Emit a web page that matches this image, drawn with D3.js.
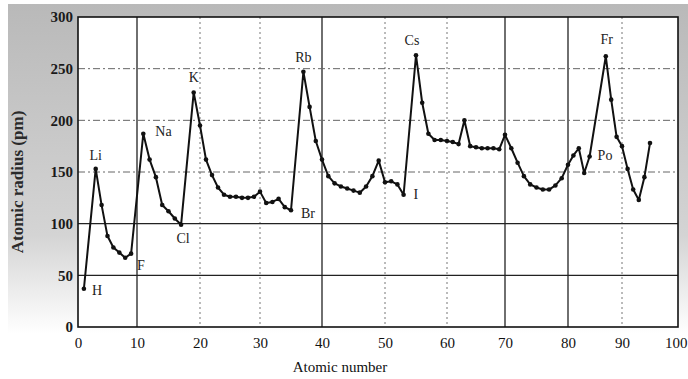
<!DOCTYPE html>
<html>
<head>
<meta charset="utf-8">
<script src="https://cdn.jsdelivr.net/npm/d3@7"></script>
<style>
  html, body { margin: 0; padding: 0; background: #fff; }
  svg { display: block; }
</style>
</head>
<body>
<div id="chart"></div>
<script>
// Atomic radius vs atomic number (noble gases left out, as in the source)

const atomicNumbers = [
  1, 3, 4, 5, 6, 7, 8, 9,
  11, 12, 13, 14, 15, 16, 17,
  19, 20, 21, 22, 23, 24, 25, 26, 27, 28, 29, 30, 31, 32, 33, 34, 35,
  37, 38, 39, 40, 41, 42, 43, 44, 45, 46, 47, 48, 49, 50, 51, 52, 53,
  55, 56, 57, 58, 59, 60, 61, 62, 63, 64, 65, 66, 67, 68, 69, 70, 71,
  72, 73, 74, 75, 76, 77, 78, 79, 80, 81, 82, 83, 84,
  87, 88, 89, 90, 91, 92, 93, 94, 95
]

const radii = [
  37, 153, 118, 88, 77, 72, 67, 71,
  187, 162, 145, 118, 112, 105, 99,
  227, 195, 162, 147, 135, 128, 126, 126, 125, 125, 126, 131, 120, 121, 124, 116, 113,
  247, 213, 180, 162, 146, 139, 136, 134, 132, 130, 136, 146, 161, 140, 141, 138, 128,
  263, 217, 187, 181, 181, 180, 179, 177, 200, 175, 174, 173, 173, 173, 172, 186, 173,
  159, 146, 138, 135, 133, 133, 137, 144, 157, 166, 173, 149, 165,
  262, 220, 184, 175, 153, 133, 123, 145, 178
]

// element labels shown on the curve
const labelSymbols = ['H', 'Li', 'F', 'Na', 'Cl', 'K', 'Br', 'Rb', 'I', 'Cs', 'Fr', 'Po']
const labelNumbers = [1, 3, 9, 11, 17, 19, 35, 37, 53, 55, 87, 84]

const xTicks = [0, 10, 20, 30, 40, 50, 60, 70, 80, 90, 100]
const yTicks = [0, 50, 100, 150, 200, 250, 300]

// label placement relative to its point
const labelOffset = {
  H: [8, 6, 'start'], Li: [0, -9, 'middle'], F: [6, 16, 'start'],
  Na: [12, 2, 'start'], Cl: [2, 18, 'middle'], K: [0, -10, 'middle'],
  Br: [10, 8, 'start'], Rb: [0, -10, 'middle'], I: [10, 4, 'start'],
  Cs: [-4, -10, 'middle'], Fr: [1, -12, 'middle'], Po: [8, 3, 'start']
}

const width = 688
const height = 379

// the scan is slightly warped, so x is calibrated on each grid line
const x = d3.scaleLinear()
  .domain(xTicks)
  .range([78, 137, 200, 260, 322, 385, 447, 505, 568, 622, 678])

const y = d3.scaleLinear()
  .domain([0, 300])
  .range([327, 17])

const svg = d3.select('#chart')
  .append('svg')
  .attr('width', width)
  .attr('height', height)
  .style('font-family', '"Liberation Serif", "DejaVu Serif", serif')

// grey panel behind the plot
const defs = svg.append('defs')
const grad = defs.append('linearGradient')
  .attr('id', 'panel')
  .attr('x1', 0).attr('y1', 0).attr('x2', 0).attr('y2', 1)
grad.append('stop').attr('offset', '0%').attr('stop-color', '#b9b9b9')
grad.append('stop').attr('offset', '70%').attr('stop-color', '#d4d4d4')
grad.append('stop').attr('offset', '100%').attr('stop-color', '#ffffff')

svg.append('rect')
  .attr('x', 8).attr('y', 4)
  .attr('width', 680).attr('height', 330)
  .attr('fill', 'url(#panel)')

svg.append('rect')
  .attr('x', x(0)).attr('y', y(300))
  .attr('width', x(100) - x(0)).attr('height', y(0) - y(300))
  .attr('fill', '#fff')

// grid
const solidX = [10, 40, 70, 80]
const solidY = [50, 100]

svg.append('g')
  .selectAll('line')
  .data(xTicks.slice(1, -1))
  .join('line')
  .attr('x1', d => x(d)).attr('x2', d => x(d))
  .attr('y1', y(300)).attr('y2', y(0))
  .attr('stroke', d => solidX.includes(d) ? '#222' : '#777')
  .attr('stroke-width', d => solidX.includes(d) ? 1.3 : 1)
  .attr('stroke-dasharray', d => solidX.includes(d) ? null : '2,3')

svg.append('g')
  .selectAll('line')
  .data(yTicks.slice(1, -1))
  .join('line')
  .attr('x1', x(0)).attr('x2', x(100))
  .attr('y1', d => y(d)).attr('y2', d => y(d))
  .attr('stroke', d => solidY.includes(d) ? '#222' : '#666')
  .attr('stroke-width', d => solidY.includes(d) ? 1.3 : 1)
  .attr('stroke-dasharray', d => solidY.includes(d) ? null : '7,3,2,3')

// frame
svg.append('rect')
  .attr('x', x(0)).attr('y', y(300))
  .attr('width', x(100) - x(0)).attr('height', y(0) - y(300))
  .attr('fill', 'none')
  .attr('stroke', '#111')
  .attr('stroke-width', 1.6)

// axes
const xAxis = svg.append('g')
  .attr('transform', `translate(0,${y(0)})`)
  .call(d3.axisBottom(x).tickValues(xTicks).tickSize(0).tickPadding(10))
xAxis.select('.domain').remove()
xAxis.selectAll('text')
  .attr('font-size', 15)
  .attr('font-family', '"Liberation Serif", serif')
  .attr('fill', '#111')
// the last label sits against the right edge in the source
xAxis.selectAll('.tick')
  .filter(d => d === 100)
  .select('text')
  .attr('text-anchor', 'end')
  .attr('dx', 9)

const yAxis = svg.append('g')
  .attr('transform', `translate(${x(0)},0)`)
  .call(d3.axisLeft(y).tickValues(yTicks).tickSize(0).tickPadding(5))
yAxis.select('.domain').remove()
yAxis.selectAll('text')
  .attr('font-size', 15)
  .attr('font-weight', 'bold')
  .attr('font-family', '"Liberation Serif", serif')
  .attr('fill', '#1a1a1a')

svg.append('text')
  .attr('x', 340).attr('y', 372)
  .attr('text-anchor', 'middle')
  .attr('font-size', 15)
  .attr('fill', '#111')
  .text('Atomic number')

svg.append('text')
  .attr('transform', `translate(23,${(y(0) + y(300)) / 2 + 10}) rotate(-90)`)
  .attr('text-anchor', 'middle')
  .attr('font-size', 17)
  .attr('font-weight', 'bold')
  .attr('fill', '#2a2a2a')
  .text('Atomic radius (pm)')

// curve
const points = atomicNumbers.map((z, i) => [z, radii[i]])

svg.append('path')
  .datum(points)
  .attr('fill', 'none')
  .attr('stroke', '#111')
  .attr('stroke-width', 2)
  .attr('stroke-linejoin', 'round')
  .attr('d', d3.line().x(d => x(d[0])).y(d => y(d[1])))

svg.append('g')
  .selectAll('circle')
  .data(points)
  .join('circle')
  .attr('cx', d => x(d[0]))
  .attr('cy', d => y(d[1]))
  .attr('r', 2.3)
  .attr('fill', '#111')

// element labels
const radiusOf = z => radii[atomicNumbers.indexOf(z)]

svg.append('g')
  .selectAll('text')
  .data(labelSymbols)
  .join('text')
  .attr('x', (s, i) => x(labelNumbers[i]) + labelOffset[s][0])
  .attr('y', (s, i) => y(radiusOf(labelNumbers[i])) + labelOffset[s][1])
  .attr('text-anchor', s => labelOffset[s][2])
  .attr('font-size', 14)
  .attr('fill', '#222')
  .text(s => s)
</script>
</body>
</html>
